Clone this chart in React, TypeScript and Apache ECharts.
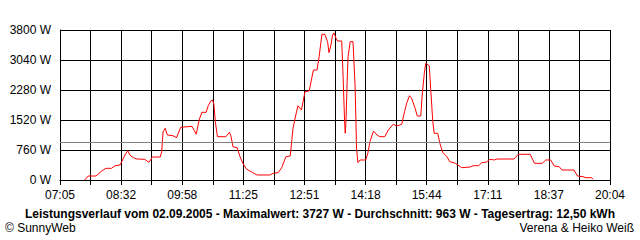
import React, { useEffect, useRef } from "react";
import * as echarts from "echarts";

const startTime = "07:05";
const endTime = "20:04";
const gridSteps = 18;
const tickLabels = ["07:05", "08:32", "09:58", "11:25", "12:51", "14:18", "15:44", "17:11", "18:37", "20:04"];
const yMax = 3800;
const yInterval = 760;
const averageW = 963;

const times = [
  "07:40", "07:45", "07:56", "08:04", "08:10", "08:18", "08:23", "08:30", "08:32", "08:37",
  "08:41", "08:44", "08:49", "08:54", "09:05", "09:11", "09:16", "09:27", "09:29", "09:31",
  "09:34", "09:37", "09:45", "09:50", "09:56", "10:12", "10:18", "10:22", "10:26", "10:32",
  "10:35", "10:39", "10:41", "10:43", "10:45", "10:48", "11:00", "11:05", "11:07", "11:10",
  "11:16", "11:20", "11:24", "11:29", "11:37", "11:44", "12:02", "12:07", "12:14", "12:19",
  "12:25", "12:31", "12:32", "12:35", "12:39", "12:42", "12:45", "12:47", "12:50", "12:52",
  "12:58", "13:01", "13:04", "13:09", "13:12", "13:15", "13:16", "13:20", "13:24", "13:26",
  "13:29", "13:31", "13:33", "13:36", "13:38", "13:44", "13:46", "13:48", "13:49", "13:50",
  "13:52", "13:53", "13:56", "14:00", "14:03", "14:05", "14:07", "14:10", "14:18", "14:21",
  "14:24", "14:29", "14:34", "14:38", "14:45", "14:50", "14:57", "15:02", "15:09", "15:13",
  "15:16", "15:20", "15:23", "15:28", "15:31", "15:36", "15:38", "15:41", "15:43", "15:45",
  "15:48", "15:50", "15:53", "15:55", "16:00", "16:03", "16:07", "16:13", "16:17", "16:25",
  "16:32", "16:34", "16:46", "16:50", "16:58", "17:02", "17:09", "17:14", "17:20", "17:24",
  "17:48", "17:54", "18:11", "18:17", "18:28", "18:33", "18:40", "18:45", "18:52", "18:56",
  "19:13", "19:18", "19:26", "19:30", "19:38", "19:40",
];

const watts = [
  0, 101, 101, 228, 296, 296, 362, 380, 448, 633,
  742, 633, 565, 532, 524, 448, 583, 583, 717, 1224,
  1310, 1140, 1122, 1072, 1335, 1360, 1158, 1520, 1715, 1715,
  1882, 2009, 2027, 1918, 1477, 1097, 1097, 1208, 1122, 844,
  818, 590, 423, 279, 195, 127, 127, 170, 185, 312,
  590, 608, 760, 1310, 1647, 1882, 1816, 1773, 2052, 2237,
  2255, 2533, 2787, 2787, 3124, 3547, 3691, 3691, 3504, 3225,
  3438, 3673, 3727, 3590, 3521, 3521, 2617, 1520, 1183, 1477,
  2660, 3124, 3504, 3504, 2364, 803, 438, 507, 507, 676,
  970, 1241, 1140, 1097, 1097, 1267, 1411, 1368, 1411, 1730,
  1943, 2136, 2070, 1816, 1621, 1621, 2153, 2703, 2956, 2931,
  2896, 2323, 1477, 1183, 1183, 930, 702, 590, 464, 423,
  337, 312, 329, 362, 362, 438, 456, 524, 507, 532,
  532, 651, 651, 423, 423, 507, 507, 355, 337, 253,
  253, 101, 84, 58, 58, 18,
];

const titleText =
  "Leistungsverlauf vom 02.09.2005 - Maximalwert: 3727 W - Durchschnitt: 963 W - Tagesertrag: 12,50 kWh";
const leftCredit = "© SunnyWeb";
const rightCredit = "Verena & Heiko Weiß";

const toMin = (s: string) => {
  const [h, m] = s.split(":").map(Number);
  return h * 60 + m;
};

export default function App() {
  const ref = useRef<HTMLDivElement>(null);
  useEffect(() => {
    if (!ref.current) return;
    const chart = echarts.init(ref.current, undefined, { renderer: "svg" });
    const t0 = toMin(startTime);
    const step = (toMin(endTime) - t0) / gridSteps;
    const data = times.map((t, i) => [(toMin(t) - t0) / step, watts[i]]);
    const font = "'Liberation Sans', Arial, sans-serif";
    chart.setOption({
      animation: false,
      backgroundColor: "#ffffff",
      grid: { left: 60, right: 30, top: 30, bottom: 60, containLabel: false },
      xAxis: {
        type: "value",
        min: 0,
        max: gridSteps,
        interval: 1,
        axisLine: { show: true, lineStyle: { color: "#000", width: 1 } },
        axisTick: { show: true, length: 5, lineStyle: { color: "#000", width: 1 } },
        splitLine: { show: true, lineStyle: { color: "#000", width: 1 } },
        axisLabel: {
          color: "#000",
          fontFamily: font,
          fontSize: 12,
          margin: 9,
          showMinLabel: true,
          showMaxLabel: true,
          formatter: (v: number) => {
            const i = Math.round(v);
            return i % 2 === 0 ? tickLabels[i / 2] ?? "" : "";
          },
        },
      },
      yAxis: {
        type: "value",
        min: 0,
        max: yMax,
        interval: yInterval,
        axisLine: { show: true, lineStyle: { color: "#000", width: 1 } },
        axisTick: { show: false },
        splitLine: { show: true, lineStyle: { color: "#000", width: 1 } },
        axisLabel: {
          color: "#000",
          fontFamily: font,
          fontSize: 12,
          margin: 9,
          formatter: (v: number) => `${v} W`,
        },
      },
      series: [
        {
          type: "line",
          data,
          symbol: "none",
          lineStyle: { color: "#ff0000", width: 1 },
          z: 3,
          markLine: {
            silent: true,
            symbol: ["none", "none"],
            label: { show: false },
            lineStyle: { color: "#808080", width: 1, type: "solid" },
            data: [{ yAxis: averageW }],
          },
        },
      ],
      graphic: [
        {
          type: "text",
          left: "center",
          top: 208,
          style: { text: titleText, font: `bold 12px ${font}`, fill: "#000" },
        },
        {
          type: "text",
          left: 5,
          top: 222,
          style: { text: leftCredit, font: `12px ${font}`, fill: "#000" },
        },
        {
          type: "text",
          right: 6,
          top: 222,
          style: { text: rightCredit, font: `12px ${font}`, fill: "#000" },
        },
      ],
    });
    return () => chart.dispose();
  }, []);
  return (
    <div
      ref={ref}
      style={{ position: "absolute", left: 0, top: 0, width: 640, height: 240 }}
    />
  );
}
